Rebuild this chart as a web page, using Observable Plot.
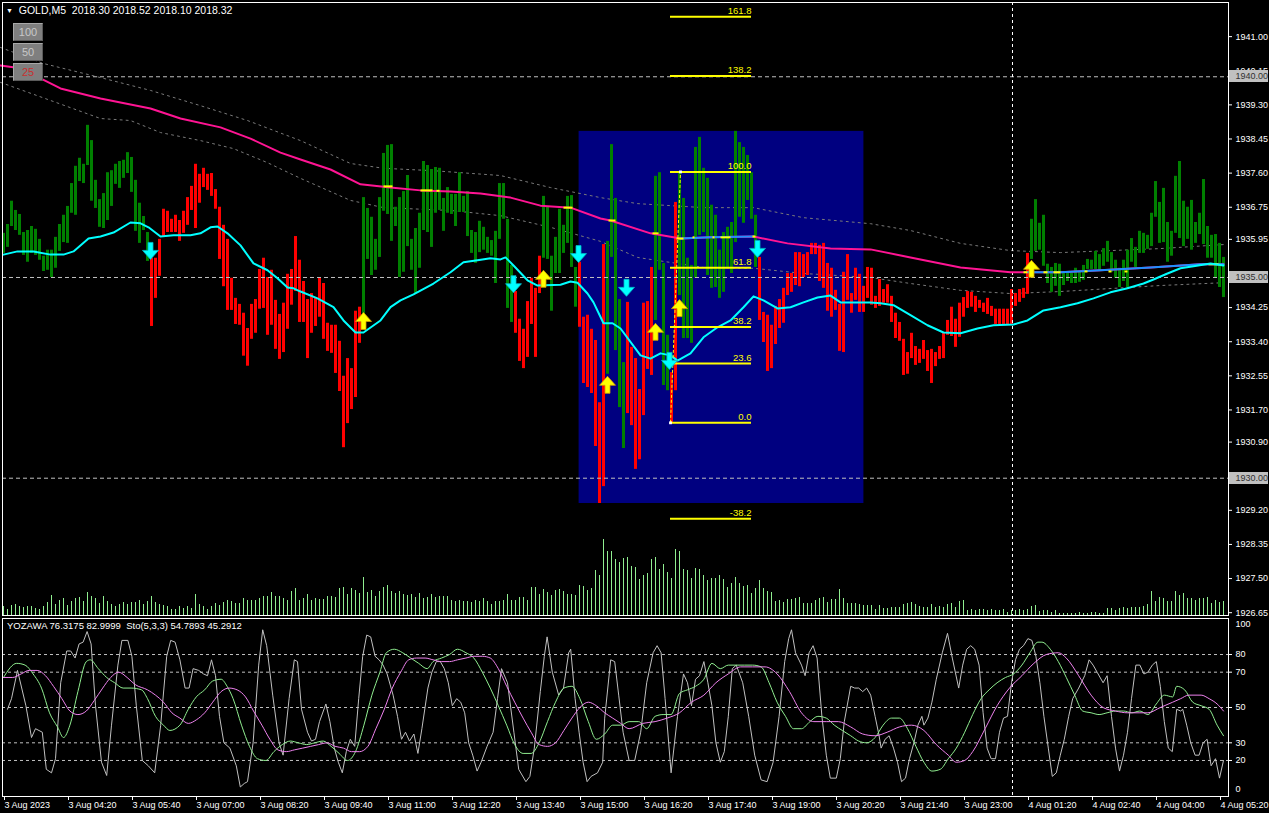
<!DOCTYPE html>
<html><head><meta charset="utf-8">
<script src="https://cdn.jsdelivr.net/npm/d3@7"></script>
<script src="https://cdn.jsdelivr.net/npm/@observablehq/plot@0.6"></script>
<style>
html,body{margin:0;padding:0;background:#000;}
#wrap{position:relative;width:1269px;height:813px;background:#000;overflow:hidden;font-family:"Liberation Sans",Arial,sans-serif;}
#wrap svg{position:absolute;left:0;max-width:none;}
.txt{position:absolute;color:#fff;font-size:9.5px;white-space:pre;line-height:12px;}
.btn{position:absolute;left:13px;width:28px;height:16px;background:#7f7f7f;border-top:1px solid #a8a8a8;border-left:1px solid #a8a8a8;border-right:1px solid #5a5a5a;border-bottom:1px solid #5a5a5a;color:#c8c8c8;font-size:11px;line-height:16px;text-align:center;}
.pbox{position:absolute;left:1229px;width:39px;height:12px;background:#c0c0c0;color:#303030;font-size:9px;line-height:12px;text-align:right;padding-right:0px;box-sizing:border-box;}
</style></head><body><div id="wrap"></div>
<script>
// ---------- DATA ----------
const priceTicks = [1941.00,1940.15,1939.30,1938.45,1937.60,1936.75,1935.95,1934.25,1933.40,1932.55,1931.70,1930.90,1929.20,1928.35,1927.50,1926.65];
const markedPrices = [1940, 1935, 1930];
const timeTickIdx = [0,16,32,48,64,80,96,112,128,144,160,176,192,208,224,240,256,272,288,304];
const timeLabels = ["3 Aug 2023","3 Aug 04:20","3 Aug 05:40","3 Aug 07:00","3 Aug 08:20","3 Aug 09:40","3 Aug 11:00","3 Aug 12:20","3 Aug 13:40","3 Aug 15:00","3 Aug 16:20","3 Aug 17:40","3 Aug 19:00","3 Aug 20:20","3 Aug 21:40","3 Aug 23:00","4 Aug 01:20","4 Aug 02:40","4 Aug 04:00","4 Aug 05:20"];
const dayBreakIdx = 252;

const barHigh = [1936.10,1936.32,1936.90,1936.67,1936.57,1936.12,1936.17,1936.27,1936.20,1935.95,
1935.53,1935.68,1935.68,1936.00,1936.32,1936.55,1936.77,1937.34,1937.77,1937.97,
1937.82,1938.79,1938.41,1937.42,1936.94,1937.09,1937.61,1937.66,1937.82,1937.89,
1937.92,1938.11,1937.99,1937.42,1936.85,1936.52,1936.12,1935.48,1935.48,1935.95,
1936.70,1936.65,1936.45,1936.55,1936.42,1936.65,1936.99,1937.27,1937.82,1937.57,
1937.72,1937.57,1937.59,1937.19,1936.75,1936.30,1935.95,1934.98,1934.48,1934.33,
1934.11,1933.73,1934.33,1934.45,1935.20,1935.48,1935.00,1935.18,1934.43,1934.08,
1934.36,1935.08,1935.20,1936.02,1935.43,1934.90,1934.45,1934.60,1934.50,1934.98,
1934.85,1933.86,1933.81,1933.81,1933.41,1932.54,1932.98,1932.73,1934.16,1934.26,
1936.99,1936.72,1936.50,1935.95,1936.99,1938.09,1938.29,1938.31,1936.75,1936.99,
1937.14,1937.54,1935.95,1936.22,1936.60,1937.89,1937.79,1937.69,1937.74,1937.72,
1936.97,1937.24,1937.07,1937.07,1937.61,1937.02,1937.14,1936.17,1936.12,1936.40,
1936.25,1936.00,1935.92,1936.15,1937.34,1937.34,1936.45,1935.30,1934.65,1933.96,
1933.71,1934.40,1934.98,1934.73,1935.53,1937.02,1936.75,1935.53,1936.00,1936.70,
1936.30,1937.02,1937.04,1935.25,1935.38,1934.01,1934.06,1933.71,1933.43,1931.88,
1935.82,1935.90,1938.31,1936.97,1934.45,1932.88,1934.38,1933.26,1932.98,1932.21,
1934.36,1934.40,1935.25,1937.52,1937.61,1935.35,1933.56,1932.63,1936.87,1937.59,
1936.97,1935.48,1935.30,1938.24,1938.49,1937.72,1937.47,1936.80,1936.55,1935.68,
1936.12,1936.25,1936.37,1938.64,1938.36,1938.24,1938.04,1937.61,1936.55,1935.50,
1934.13,1934.06,1933.81,1934.28,1934.45,1934.73,1935.10,1935.10,1935.62,1935.62,
1935.57,1935.62,1935.85,1935.85,1935.80,1935.85,1935.35,1935.23,1934.68,1934.33,
1935.13,1935.57,1934.60,1935.23,1935.08,1934.78,1935.25,1935.23,1934.53,1934.95,
1934.70,1934.82,1934.53,1934.11,1933.88,1933.46,1933.13,1933.61,1933.28,1933.21,
1933.43,1933.18,1933.21,1933.13,1933.28,1933.61,1933.93,1934.26,1933.96,1934.36,
1934.50,1934.65,1934.63,1934.53,1934.43,1934.36,1934.48,1934.28,1934.21,1934.21,
1934.21,1934.21,1934.70,1934.60,1934.70,1934.73,1935.60,1936.45,1936.94,1936.35,
1936.55,1935.33,1935.25,1935.35,1935.33,1935.13,1935.15,1935.10,1935.23,1935.13,
1935.30,1935.45,1935.43,1935.65,1935.57,1935.72,1935.90,1935.62,1935.43,1935.23,
1935.43,1935.68,1935.97,1935.75,1936.15,1936.10,1936.05,1936.60,1937.39,1936.87,
1937.22,1936.37,1936.15,1937.52,1937.89,1936.90,1936.75,1936.92,1936.37,1936.60,
1937.44,1936.27,1936.05,1936.07,1935.85,1935.50];
const barLow = [1935.60,1935.75,1936.27,1936.17,1936.05,1935.55,1935.38,1935.60,1935.55,1935.43,
1935.15,1935.18,1935.00,1935.23,1935.65,1935.87,1935.85,1936.60,1936.55,1937.39,
1937.34,1937.79,1936.90,1936.72,1936.25,1936.22,1936.42,1936.77,1937.32,1937.22,
1937.47,1937.59,1937.12,1936.15,1935.85,1936.17,1935.40,1933.78,1934.48,1935.03,
1936.00,1936.12,1936.12,1936.12,1935.90,1936.10,1936.30,1936.67,1936.22,1936.85,
1937.24,1937.17,1937.02,1936.70,1935.45,1934.77,1934.18,1934.18,1933.83,1933.81,
1933.04,1932.79,1933.46,1933.61,1934.21,1934.23,1933.56,1933.81,1933.21,1932.96,
1933.13,1933.71,1934.31,1934.65,1933.88,1933.88,1932.98,1933.61,1933.78,1934.01,
1933.46,1933.16,1933.11,1932.61,1932.16,1930.76,1931.36,1931.71,1932.01,1933.36,
1933.93,1935.45,1935.05,1935.18,1935.50,1936.65,1936.57,1935.90,1936.27,1935.00,
1935.13,1935.77,1935.18,1934.60,1935.23,1936.17,1936.12,1935.75,1936.60,1936.67,
1936.15,1936.60,1936.57,1936.27,1936.62,1936.62,1936.02,1935.60,1935.35,1935.62,
1935.68,1935.60,1935.53,1934.85,1935.95,1936.45,1934.23,1933.88,1933.61,1932.91,
1932.73,1933.01,1933.83,1933.01,1934.60,1935.48,1935.45,1934.16,1935.10,1935.10,
1935.60,1935.85,1935.25,1934.26,1933.76,1932.36,1932.26,1932.11,1930.79,1929.37,
1929.79,1932.59,1935.50,1933.18,1931.76,1930.74,1931.61,1931.31,1930.22,1930.46,
1931.56,1932.71,1932.56,1933.93,1935.18,1932.31,1932.18,1931.38,1932.18,1934.55,
1933.48,1933.48,1933.36,1934.98,1936.05,1936.12,1935.05,1934.73,1934.75,1934.48,
1934.63,1935.23,1935.10,1935.87,1936.50,1936.35,1936.92,1936.45,1935.25,1933.93,
1933.38,1932.66,1932.73,1933.33,1933.73,1933.86,1934.55,1934.63,1934.80,1934.77,
1935.00,1935.05,1935.57,1935.57,1934.90,1934.73,1934.16,1934.01,1934.18,1933.16,
1933.13,1934.43,1934.11,1934.43,1934.13,1934.13,1934.48,1934.31,1934.23,1934.28,
1934.36,1934.36,1933.88,1933.48,1933.41,1932.56,1932.59,1932.98,1932.81,1932.86,
1932.96,1932.66,1932.36,1932.78,1932.96,1932.98,1933.56,1933.53,1933.26,1933.51,
1934.01,1934.23,1934.26,1934.13,1934.23,1934.13,1934.08,1934.03,1933.83,1933.83,
1933.83,1933.83,1933.83,1934.28,1934.38,1934.48,1934.58,1935.45,1935.65,1935.68,
1935.28,1934.85,1934.63,1934.78,1934.53,1934.80,1934.90,1934.85,1934.85,1934.88,
1934.93,1935.20,1935.20,1935.20,1935.18,1935.28,1935.38,1935.13,1934.98,1934.75,
1934.90,1934.75,1935.38,1935.25,1935.60,1935.60,1935.70,1935.77,1936.50,1935.85,
1935.87,1935.38,1935.53,1936.10,1935.97,1935.77,1935.95,1935.68,1935.85,1936.07,
1935.82,1935.48,1935.48,1934.98,1934.75,1934.50];
// trend colouring: runs of [count, direction]
const trendRuns = [[37,"up"],[53,"down"],[38,"up"],[7,"down"],[9,"up"],[7,"down"],[5,"up"],[7,"down"],[4,"up"],[2,"down"],[20,"up"],[68,"down"],[49,"up"]];

const volume = [9,6,10,11,9,8,9,9,7,6, 9,13,20,11,15,17,10,14,17,18, 14,23,19,17,12,19,14,11,9,11,
13,11,13,13,15,11,14,19,13,11, 10,9,6,6,9,7,9,7,21,11, 9,6,9,12,10,13,15,14,12,12,
17,15,15,15,17,19,19,23,19,19, 17,15,24,27,15,17,21,15,17,16, 16,19,19,18,27,28,21,27,25,22,
38,23,25,19,24,28,30,24,22,24, 21,20,21,18,22,17,18,21,18,19, 19,19,15,14,15,14,14,13,15,14,
17,14,11,14,14,15,21,15,15,18, 18,15,28,28,21,26,23,20,25,26, 24,21,21,20,30,29,25,27,45,40,
76,64,64,56,53,57,58,49,48,36, 40,42,56,58,46,51,43,37,66,64, 46,45,37,47,46,40,35,37,37,40,
36,28,32,38,32,29,30,22,27,35, 27,24,23,14,15,13,16,16,17,18, 12,12,12,15,17,18,13,16,16,26,
17,12,12,12,11,10,10,10,6,10, 7,7,8,8,8,11,12,13,11,9, 8,8,11,8,9,8,11,12,8,14,
15,5,6,5,6,6,5,6,5,5, 6,3,5,5,6,5,6,9,10,4, 5,5,3,5,2,2,2,2,2,3,
2,2,3,3,2,2,7,7,5,7, 8,7,8,8,8,9,11,24,14,18, 17,14,14,24,20,22,17,17,15,17,
17,18,12,15,13,14];

// moving averages [bar index, price]
const fastMA = [[0,1935.57],[3.5,1935.65],[7.5,1935.65],[11.75,1935.57],[15,1935.57],[17.5,1935.65],[21.25,1935.97],[24.25,1936.02],[27.5,1936.12],[31.75,1936.37],[34.25,1936.35],[36.25,1936.25],[39.25,1936.02],[42.5,1936.05],[46.75,1936.05],[49.25,1936.10],[51.75,1936.25],[53.5,1936.27],[56,1936.10],[59.25,1935.80],[62.5,1935.35],[66,1935.18],[68.5,1934.98],[71,1934.75],[72.5,1934.73],[74.25,1934.65],[78.5,1934.48],[82.5,1934.26],[85,1933.93],[88,1933.63],[90,1933.63],[94.25,1933.93],[96.75,1934.26],[99.25,1934.43],[102.5,1934.58],[107.5,1934.85],[111.75,1935.13],[115,1935.38],[118.5,1935.43],[121.75,1935.48],[124.25,1935.45],[125.5,1935.50],[127.5,1935.30],[131,1934.93],[133.5,1934.80],[139.25,1934.82],[141.75,1934.90],[143.5,1934.87],[146,1934.60],[147.5,1934.38],[150,1933.86],[152.25,1933.86],[154.25,1933.73],[159.25,1933.06],[161.75,1932.98],[164.25,1933.11],[166.75,1933.06],[168.5,1932.93],[171.75,1933.11],[175,1933.51],[178.5,1933.76],[181.75,1933.93],[185,1934.26],[187.5,1934.53],[190,1934.43],[193.5,1934.23],[196.75,1934.26],[200,1934.38],[203.5,1934.50],[206.75,1934.55],[209.25,1934.38],[216.75,1934.38],[219.25,1934.36],[222.5,1934.31],[226.75,1934.06],[231,1933.81],[235,1933.63],[239.25,1933.61],[243.5,1933.73],[247.5,1933.81],[252.5,1933.83],[256,1933.93],[260,1934.18],[264.25,1934.26],[268.5,1934.36],[272.5,1934.48],[276.75,1934.63],[281,1934.73],[285,1934.85],[287.5,1934.95],[291,1935.10],[294.25,1935.23],[297.5,1935.28],[301.75,1935.35],[305,1935.30]];
const slowMA = [[-0.75,1940.28],[4.25,1940.21],[9.25,1939.96],[14.25,1939.71],[24.25,1939.46],[36.75,1939.21],[44.25,1938.96],[54.25,1938.74],[61.75,1938.46],[69.25,1938.11],[74.25,1937.94],[81.75,1937.69],[89.25,1937.32],[96.75,1937.24],[104.25,1937.17],[111.75,1937.14],[119.25,1937.09],[126.75,1936.99],[134.25,1936.79],[141.75,1936.74],[149.25,1936.47],[151.75,1936.42],[161.75,1936.10],[169.25,1935.97],[176.75,1936.00],[187.5,1936.02],[196,1935.85],[206.75,1935.72],[216.75,1935.70],[226.75,1935.50],[239.25,1935.25],[251.75,1935.13],[256,1935.13],[264.25,1935.13],[274.25,1935.18],[286.75,1935.25],[299.25,1935.33],[305,1935.33]];
const slowMARising = [[169,188],[256,305]];
const slowMAFlat = [[95,97.25,1937.27],[104.25,107.25,1937.17],[108.25,109,1937.16],[140,142.25,1936.74],[151.25,153,1936.42],[162.25,163.75,1936.10],[168.25,170,1935.97],[172.25,172.75,1936.00],[177.25,177.75,1936.00],[179.25,181.75,1936.00],[187.25,188,1936.02],[255,256,1935.13],[260,261,1935.13],[262.5,264.25,1935.13],[270.25,271,1935.15],[276.25,277,1935.15],[280.25,281,1935.15],[301.25,303.75,1935.33]];
const envUpper = [[-0.75,1940.73],[10,1940.33],[24.25,1939.98],[36.75,1939.66],[49.25,1939.28],[61,1938.91],[74.25,1938.41],[86.75,1937.84],[95,1937.72],[107.5,1937.66],[124.25,1937.54],[136.75,1937.24],[149.25,1936.99],[158.5,1936.84],[175,1936.74],[187.5,1936.74],[200,1936.49],[216.75,1936.34],[226.75,1936.17],[239.25,1935.85],[251.75,1935.67],[264.25,1935.62],[289.25,1935.72],[305,1935.82]];
const envLower = [[-0.75,1939.86],[24.25,1938.96],[31.75,1938.91],[39.25,1938.61],[49.25,1938.41],[57.5,1938.21],[66,1937.86],[74.25,1937.47],[86.75,1936.92],[95,1936.74],[111.75,1936.67],[124.25,1936.54],[136.75,1936.25],[149.25,1935.90],[158.5,1935.50],[175,1935.25],[187.5,1935.23],[200,1935.10],[216.75,1935.00],[226.75,1934.85],[239.25,1934.68],[251.75,1934.60],[264.25,1934.65],[289.25,1934.80],[305,1934.87]];

const arrowsDown = [[36.75,1935.65],[127.5,1934.82],[143.75,1935.57],[155.75,1934.73],[166.5,1932.91],[188.5,1935.70]];
const arrowsUp = [[90,1933.93],[135,1934.98],[151,1932.34],[163,1933.66],[169,1934.25],[257,1935.23]];

const fibBox = {i1:143.9, i2:215.1, lo:1929.37, hi:1938.64};
const fibAnchor = {i0:166.75, p0:1931.38, i1:169.25, p1:1937.63, iEnd:187};
const fibLevels = [161.8,138.2,100.0,61.8,38.2,23.6,0.0,-38.2];

// oscillator [bar index, value]
const oscFast = [[1,49],[2,55],[3.5,71],[5.6,51],[7,33],[8,38],[9.7,36],[10.7,15],[12,13],[13,21],[14.3,64],[15.8,82],[16.8,82],[17.9,78],[18.9,86],[19.9,87],[20.9,93],[21.9,86],[23,51],[24.5,19],[25.8,11.5],[27,40],[28.6,74],[29.6,88],[31.1,88],[32.1,79],[33.2,51],[34.7,20],[36.2,17],[37.8,13],[39.3,40],[40.8,79],[41.8,88],[42.9,87],[44.1,77],[45.4,61],[46.4,61],[47.4,72],[48.8,71],[50,69],[51,68],[52,77],[53,68],[54,45],[55.1,30],[56.6,27],[58.2,17],[59.2,5],[60.2,7],[61,8],[62.4,30],[63.8,74],[64.8,94],[65.8,85],[67.3,57],[68.9,30],[69.9,23],[71.4,55],[72.7,77],[73.5,76],[74.5,49],[76,36],[77,31],[78,32],[79,42],[80.6,52],[81.6,42],[82.7,27],[83.7,19],[84.7,13],[85.7,25],[86.7,32],[87.8,28],[88.8,55],[89.8,79],[90.8,91],[91.8,90],[92.9,79],[93.9,77],[94.9,74],[95.9,69],[97.4,57],[98.5,45],[99.5,32],[100.5,36],[101.5,31],[102.6,35],[103.6,24],[104.6,38],[106.1,61],[107.1,70],[108.2,76],[109.2,76],[110.2,72],[111.2,64],[112.2,51],[113.3,55],[114.3,53],[115.3,47],[116.3,30],[117.3,23],[118.4,14],[119.4,19],[120.9,28],[122.4,36],[123.5,55],[124.5,72],[126,64],[127.6,36],[128.8,15],[130.6,8],[131.6,11],[132.7,27],[134.2,59],[135.2,79],[135.9,90],[137.2,70],[138.8,57],[140,61],[141.3,81],[141.8,83],[142.9,55],[143.9,36],[144.9,19],[145.9,8],[146.9,11],[148.5,13],[149.8,19],[150.3,44],[151.8,77],[152.8,76],[153.8,57],[154.9,36],[156.4,20],
[157.8,20],[159.3,36],[160.8,64],[162.4,81],[163.4,85],[164.4,81],[165.4,55],[166.9,13],[168.5,45],[170,69],[171,64],[172,51],[173,66],[174,68],[175.1,76],[176.1,64],[177.1,51],[178.1,30],[179.2,19],[180.2,25],[181.2,45],[182.2,72],[183.2,74],[184.8,64],[186.3,45],[187.8,23],[189.4,9],[190.9,8],[192.4,19],[193.9,45],[195.3,76],[196.3,89],[197,94],[198,81],[199.5,74],[200.4,68],[201.4,81],[202.4,85],[203.4,78],[204.6,45],[205.7,23],[206.7,10],[208.2,10],[209.2,21],[210.2,42],[211.8,62],[212.8,61],[213.8,61],[214.8,59],[215.8,61],[216.8,57],[217.9,45],[218.9,34],[219.4,27],[220.4,32],[221.4,34],[222.5,27],[223.5,19],[224.5,8],[225.5,10],[226.5,21],[227.6,30],[228.6,40],[229.6,45],[230.1,40],[231.1,44],[232.1,53],[233.2,66],[234.7,81],[236,92],[237.2,78],[238.8,61],[239.8,74],[240.8,83],[241.8,85],[242.8,83],[243.9,74],[244.9,47],[245.9,27],[246.9,21],[248,21],[249,36],[250,44],[251,45],[252,64],[253,77],[254,83],[255,85],[256.1,89],[257.1,88],[258.1,79],[259.1,64],[260.1,45],[261.2,27],[262.2,11],[263.2,13],[264.2,23],[265.2,32],[266.3,45],[267.3,55],[268.8,61],[270.3,68],[271.4,77],[272.4,74],[273.4,70],[274.9,64],[275.9,68],[277,45],[278,27],[279,14],[280,23],[281,36],[282,55],[283.1,74],[284.1,74],[285.1,69],[286.1,70],[287.2,74],[288.2,76],[289.2,62],[290.2,42],[291.2,27],[292.2,25],[293.3,49],[294.3,48],[294.8,49],[295.8,40],[296.8,30],[297.9,23],[298.9,23],[299.9,30],[300.9,32],[301.9,17],[303,21],[304,10],[305,20]];
const oscMain = [[0,67],[3.3,75],[5.4,74],[7.4,69],[9.5,61],[11.5,47],[13.5,39],[15,33],[16.6,40],[18.6,59],[20.7,76],[21.7,77],[23.7,72],[25.8,67],[27.8,64],[29.9,61],[31.9,61],[34.5,60],[36,55],[38,45],[40,40],[41.6,37],[44.1,40],[46.2,49],[48.2,56],[50.3,60],[52.3,65],[54.4,66],[55.9,62],[57.4,55],[59.5,40],[61.5,28],[63.5,21],[65.6,20],[67.6,25],[69.7,29],[71.7,31],[73.7,30],[75.8,29],[77.8,30],[79.9,31],[81.9,28],[83.9,24],[86,20],[88,25],[90.1,40],[92.1,57],[94.1,70],[95.7,81],[97.7,83],[99.8,81],[101.8,78],[103.8,75],[105.9,72],[107.4,76],[109.5,78],[111.5,80],[113.5,83],[115.6,81],[117.6,78],[119.7,70],[121.7,61],[123.7,51],[125.8,40],[127.8,29],[129.9,24],[131.9,24],[133.9,30],[136,42],[138,53],[140.1,61],[142.1,62],[144.1,55],[146.2,42],[148.2,32],[150.3,35],[152.3,40],[154.3,40],[156.4,42],
[158.8,42],[160.8,38],[162.9,45],[164.9,46],[166.9,46],[169,58],[171,60],[173,62],[175.1,66],[177.1,75],[179.2,72],[181.2,74],[183.2,74],[185.3,74],[187.3,74],[189.4,73],[191.4,64],[193.4,53],[195.5,45],[197.5,38],[199.5,38],[201.6,42],[203.6,45],[205.7,44],[207.7,40],[209.7,37],[211.8,34],[213.8,31],[215.8,30],[217.9,33],[219.9,40],[222,44],[224,44],[226,38],[228.1,28],[230.1,19],[232.1,14],[234.2,15],[236.2,21],[238.2,27],[240.3,36],[242.3,46],[244.4,55],[246.4,60],[248.4,64],[250.5,67],[252.5,69],[254.6,74],[256.6,81],[258.6,87],[259.6,87],[261.7,83],[263.7,76],[265.7,67],[267.8,57],[269.8,48],[271.9,47],[273.9,46],[275.9,47],[278,48],[280,48],[282.1,47],[284.1,48],[286.1,46],[288.2,52],[290.2,57],[292.3,56],[293.3,62],[295.3,60],[297.3,53],[299.4,51],[301.4,49],[303.4,40],[305,34]];
const oscSignal = [[0,67],[2.3,67],[4.4,69],[6.4,71],[8.4,71],[10.5,68],[12.5,62],[14.6,55],[16.6,48],[18.6,46],[20.7,48],[22.7,54],[24.8,61],[26.8,67],[28.8,70],[30.9,67],[32.9,63],[36,60],[38,57],[40,53],[42.1,47],[44.1,44],[46.2,41],[48.2,43],[50.3,47],[52.3,53],[54.4,59],[56.4,61],[58.4,60],[60.5,56],[62.5,48],[64.6,40],[66.6,32],[68.6,26],[70.7,25],[72.7,26],[74.8,27],[76.8,28],[78.8,29],[80.9,30],[82.9,28],[85,27],[87,25],[89,25],[91.1,28],[93.1,38],[95.2,49],[97.2,61],[99.3,70],[101.3,77],[103.3,78],[105.4,78],[107.4,77],[109.5,76],[111.5,76],[113.5,77],[115.6,78],[117.6,79],[119.7,79],[121.7,78],[123.7,72],[125.8,62],[127.8,53],[129.9,44],[131.9,36],[133.9,29],[136,28],[138,30],[140.1,37],[142.1,44],[144.1,50],[146.2,53],[148.2,51],[150.3,47],[152.3,44],[154.3,41],[156.4,38],
[159.8,41],[162.9,42],[165.9,44],[169,47],[172,53],[175.1,57],[178.1,64],[181.2,69],[184.3,73],[187.3,73],[190.4,73],[193.4,69],[196.5,59],[199.5,47],[202.6,42],[205.7,42],[208.7,42],[211.8,39],[214.8,35],[217.9,34],[220.9,36],[224,39],[227,40],[230.1,37],[233.2,29],[236.2,23],[238.2,19],[240.3,20],[242.3,25],[245.4,38],[248.4,51],[251.5,61],[254.6,68],[257.6,75],[260.7,80],[263.7,81],[265.7,78],[268.8,68],[271.9,57],[274.9,50],[278,48],[281,47],[284.1,47],[286.1,47],[289.2,50],[292.3,53],[294.3,55],[296.3,57],[299.4,57],[301.4,55],[303.4,52],[305,48]];
const oscLevels = [80,70,50,30,20];

// ---------- BUILD ----------
const trend = trendRuns.flatMap(([n, d]) => Array(n).fill(d));
const bars = barHigh.map((h, i) => ({i, hi: h, lo: barLow[i], up: trend[i] === "up"}));
const vols = volume.map((v, i) => ({i, v}));
const fibData = fibLevels.map(l => ({l, p: fibAnchor.p0 + (fibAnchor.p1 - fibAnchor.p0) * l / 100}));

const downArrow = {draw(c){c.moveTo(-2.5,-9);c.lineTo(2.5,-9);c.lineTo(2.5,-1);c.lineTo(8,-1);c.lineTo(0,8);c.lineTo(-8,-1);c.lineTo(-2.5,-1);c.closePath();}};
const upArrow = {draw(c){c.moveTo(-2.5,9);c.lineTo(2.5,9);c.lineTo(2.5,1);c.lineTo(8,1);c.lineTo(0,-8);c.lineTo(-8,1);c.lineTo(-2.5,1);c.closePath();}};

const X = {domain: [0, 305], range: [3, 1223], axis: null};
const FONT = "Liberation Sans, Arial, sans-serif";
const wrap = document.getElementById("wrap");

const volPlot = Plot.plot({
  width: 1269, height: 617, margin: 0,
  style: {background: "transparent"},
  x: X, y: {domain: [0, 100], range: [615, 515], axis: null},
  marks: [Plot.ruleX(vols, {x: "i", y1: 0, y2: "v", stroke: "#90ee90", strokeWidth: 1})]
});
volPlot.style.top = "0px";
wrap.appendChild(volPlot);

const main = Plot.plot({
  width: 1269, height: 617, marginTop: 2, marginLeft: 2, marginRight: 41, marginBottom: 2,
  style: {background: "transparent", color: "#fff", fontFamily: FONT, fontSize: "9px"},
  x: X,
  y: {domain: [1926.58, 1941.90], range: [615, 0], axis: null},
  color: {type: "identity"},
  marks: [
    Plot.rect([fibBox], {x1: "i1", x2: "i2", y1: "lo", y2: "hi", fill: "#000080"}),
    Plot.line(envUpper, {x: d => d[0], y: d => d[1], stroke: "#7a7a7a", strokeDasharray: "2,4", strokeWidth: 1}),
    Plot.line(envLower, {x: d => d[0], y: d => d[1], stroke: "#7a7a7a", strokeDasharray: "2,4", strokeWidth: 1}),
    Plot.ruleX(bars, {x: "i", y1: "lo", y2: "hi", stroke: d => d.up ? "#008000" : "#ff0000", strokeWidth: 3}),
    Plot.ruleY(markedPrices, {stroke: "#c0c0c0", strokeDasharray: "4,3", strokeWidth: 1}),
    Plot.ruleX([dayBreakIdx], {stroke: "#ffffff", strokeDasharray: "3,3", dx: 1}),
    Plot.line(slowMA, {x: d => d[0], y: d => d[1], stroke: "#ff1493", strokeWidth: 2}),
    ...slowMARising.map(r => Plot.line(slowMA.filter(d => d[0] >= r[0] && d[0] <= r[1]), {x: d => d[0], y: d => d[1], stroke: "#1e90ff", strokeWidth: 2})),
    Plot.link(slowMAFlat, {x1: d => d[0], x2: d => d[1], y1: d => d[2], y2: d => d[2], stroke: "#ffff00", strokeWidth: 2}),
    Plot.line(fastMA, {x: d => d[0], y: d => d[1], stroke: "#00ffff", strokeWidth: 2}),
    Plot.ruleY(fibData, {y: "p", x1: fibAnchor.i0, x2: fibAnchor.iEnd, stroke: "#ffff00", strokeWidth: 2}),
    Plot.text(fibData, {x: fibAnchor.iEnd, y: "p", text: d => d.l.toFixed(1), textAnchor: "end", dy: -6, fill: "#ffff00", fontSize: 9.5}),
    Plot.link([fibAnchor], {x1: "i0", y1: "p0", x2: "i1", y2: "p1", stroke: "#ffff00", strokeDasharray: "3,2", strokeWidth: 1}),
    Plot.dot([[fibAnchor.i0, fibAnchor.p0], [fibAnchor.i1, fibAnchor.p1]], {x: d => d[0], y: d => d[1], symbol: "square", r: 1.6, fill: "#ffffff", stroke: "none"}),
    Plot.dot(arrowsDown, {x: d => d[0], y: d => d[1], symbol: downArrow, r: 5, fill: "#00ffff", stroke: "#00b8c8", strokeWidth: 0.8}),
    Plot.dot(arrowsUp, {x: d => d[0], y: d => d[1], symbol: upArrow, r: 5, fill: "#ffff00", stroke: "#d4a000", strokeWidth: 0.8}),
    Plot.axisY(priceTicks, {anchor: "right", tickSize: 3, tickPadding: 4, tickFormat: d => d.toFixed(2), fontSize: 9, stroke: "#fff", fill: "#fff"}),
    Plot.frame({stroke: "#ffffff"})
  ]
});
main.style.top = "0px";
wrap.appendChild(main);

const osc = Plot.plot({
  width: 1269, height: 196, marginTop: 1, marginLeft: 2, marginRight: 41, marginBottom: 17,
  style: {background: "transparent", color: "#fff", fontFamily: FONT, fontSize: "9px", overflow: "visible"},
  x: X,
  y: {domain: [0, 100], range: [178.3, 1.7], axis: null},
  marks: [
    Plot.ruleY(oscLevels, {stroke: "#c0c0c0", strokeDasharray: "3,3"}),
    Plot.ruleX([dayBreakIdx], {stroke: "#ffffff", strokeDasharray: "3,3", dx: 1}),
    Plot.line(oscFast, {x: d => d[0], y: d => d[1], stroke: "#c0c0c0", strokeWidth: 1}),
    Plot.line(oscMain, {x: d => d[0], y: d => d[1], stroke: "#90ee90", strokeWidth: 1, curve: "monotone-x"}),
    Plot.line(oscSignal, {x: d => d[0], y: d => d[1], stroke: "#ee82ee", strokeWidth: 1, curve: "monotone-x"}),
    Plot.axisY(oscLevels, {anchor: "right", tickSize: 3, tickPadding: 4, fontSize: 9, stroke: "#fff", fill: "#fff"}),
    Plot.text(["100"], {frameAnchor: "top-right", dx: 7, dy: 6, lineAnchor: "middle", textAnchor: "start", fill: "#fff", fontSize: 9}),
    Plot.text(["0"], {frameAnchor: "bottom-right", dx: 7, dy: -7, lineAnchor: "middle", textAnchor: "start", fill: "#fff", fontSize: 9}),
    Plot.axisX(timeTickIdx, {anchor: "bottom", tickSize: 4, tickPadding: 1, textAnchor: "start", dx: 1, fontSize: 9, stroke: "#fff", fill: "#fff",
      tickFormat: d => timeLabels[timeTickIdx.indexOf(d)]}),
    Plot.frame({stroke: "#ffffff"})
  ]
});
osc.style.top = "617px";
wrap.appendChild(osc);

// overlay texts
function addDiv(cls, txt, css) { const d = document.createElement("div"); d.className = cls; d.textContent = txt; Object.assign(d.style, css); wrap.appendChild(d); return d; }
const hdr = addDiv("txt", "", {left: "6px", top: "4px", fontSize: "10.5px"});
hdr.innerHTML = '<span style="font-size:7px;vertical-align:1px">&#9660;</span>  GOLD,M5  2018.30 2018.52 2018.10 2018.32';
addDiv("btn", "100", {top: "23px"});
addDiv("btn", "50", {top: "43px"});
addDiv("btn", "25", {top: "63px", color: "#c83030"});
addDiv("txt", "YOZAWA 76.3175 82.9999  Sto(5,3,3) 54.7893 45.2912", {left: "7px", top: "620px"});
const ys = main.scale("y");
markedPrices.forEach(p => { const y = ys.apply(p); addDiv("pbox", p.toFixed(2), {top: (y - 6) + "px"}); });
</script></body></html>
